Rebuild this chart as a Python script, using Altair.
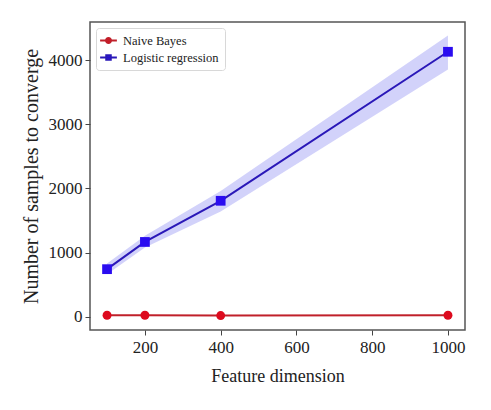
import altair as alt
import pandas as pd

dims = [100, 200, 400, 1000]
nb_mean = [20, 20, 15, 20]
lr_mean = [740, 1165, 1808, 4135]
lr_low = [660, 1080, 1640, 3860]
lr_high = [830, 1260, 1960, 4390]
series = ["Naive Bayes", "Logistic regression"]
marker_colors = ["#dd0a1e", "#2a0cf0"]
line_colors = ["#c0202a", "#2a18b8"]

rows = []
for s, vals in zip(series, [nb_mean, lr_mean]):
    for d, v in zip(dims, vals):
        rows.append({"dim": d, "val": v, "series": s})
df = pd.DataFrame(rows)
band = pd.DataFrame({"dim": dims, "lo": lr_low, "hi": lr_high})

font = "Liberation Serif"
xs = alt.Scale(domain=[55, 1045], nice=False, zero=False)
ys = alt.Scale(domain=[-210, 4600], nice=False, zero=False)

x_enc = alt.X("dim:Q", scale=xs, title="Feature dimension",
              axis=alt.Axis(values=[200, 400, 600, 800, 1000], format="d", grid=False, domain=False,
                            tickSize=5, tickColor="#444", labelFontSize=17, labelFont=font,
                            labelColor="#222", titleFont=font, titleFontSize=18,
                            titleFontWeight="normal", titleColor="#222", labelPadding=4,
                            titlePadding=12))
y_enc = alt.Y("val:Q", scale=ys, title="Number of samples to converge",
              axis=alt.Axis(values=[0, 1000, 2000, 3000, 4000], format="d", grid=False, domain=False,
                            tickSize=5, tickColor="#444", labelFontSize=17, labelFont=font,
                            labelColor="#222", titleFont=font, titleFontSize=20,
                            titleFontWeight="normal", titleColor="#222", labelPadding=3,
                            titlePadding=7))

bandc = alt.Chart(band).mark_area(color="#6a6af0", opacity=0.3).encode(
    x=alt.X("dim:Q", scale=xs), y=alt.Y("lo:Q", scale=ys), y2="hi:Q")

lines = alt.Chart(df).mark_line(strokeWidth=2).encode(
    x=x_enc, y=y_enc,
    color=alt.Color("series:N", scale=alt.Scale(domain=series, range=line_colors), legend=None),
    detail="series:N")

shape_paths = [
    "M-1.6,0H1.6M0.5,0A0.5,0.5,0,1,1,-0.5,0A0.5,0.5,0,1,1,0.5,0Z",
    "M-1.6,0H1.6M-0.45,-0.45H0.45V0.45H-0.45Z",
]

points = alt.Chart(df).mark_point(filled=True, opacity=1).encode(
    x=alt.X("dim:Q", scale=xs), y=alt.Y("val:Q", scale=ys),
    color=alt.Color("series:N", scale=alt.Scale(domain=series, range=marker_colors), legend=None),
    shape=alt.Shape("series:N", scale=alt.Scale(domain=series, range=["circle", "square"]), legend=None),
    size=alt.Size("series:N", scale=alt.Scale(domain=series, range=[80, 95]), legend=None))

leg = alt.Legend(title=None, orient="none", legendX=6, legendY=6,
                 symbolOpacity=1, symbolSize=110, symbolStrokeWidth=1.8,
                 labelFont=font, labelFontSize=12.5, labelColor="#222",
                 fillColor="white", strokeColor="#d8d8d8", padding=6,
                 cornerRadius=3, rowPadding=4, labelOffset=8)

legend_layer = alt.Chart(df).mark_point(filled=True, opacity=0, strokeWidth=1.5).encode(
    x=alt.X("dim:Q", scale=xs), y=alt.Y("val:Q", scale=ys),
    fill=alt.Fill("series:N", scale=alt.Scale(domain=series, range=marker_colors), legend=leg),
    stroke=alt.Stroke("series:N", scale=alt.Scale(domain=series, range=line_colors), legend=leg),
    shape=alt.Shape("series:N", scale=alt.Scale(domain=series, range=shape_paths), legend=leg),
)

chart = alt.layer(bandc, lines, points, legend_layer).resolve_scale(
    color="independent", shape="independent", fill="independent", stroke="independent"
).properties(
    width=375, height=308,
    autosize=alt.AutoSizeParams(type="none"),
    padding={"left": 82, "top": 14, "right": 18, "bottom": 70},
).configure_view(stroke="#555", strokeWidth=1.5)

chart.save("out.html", embed_options={"renderer": "svg", "actions": False})
